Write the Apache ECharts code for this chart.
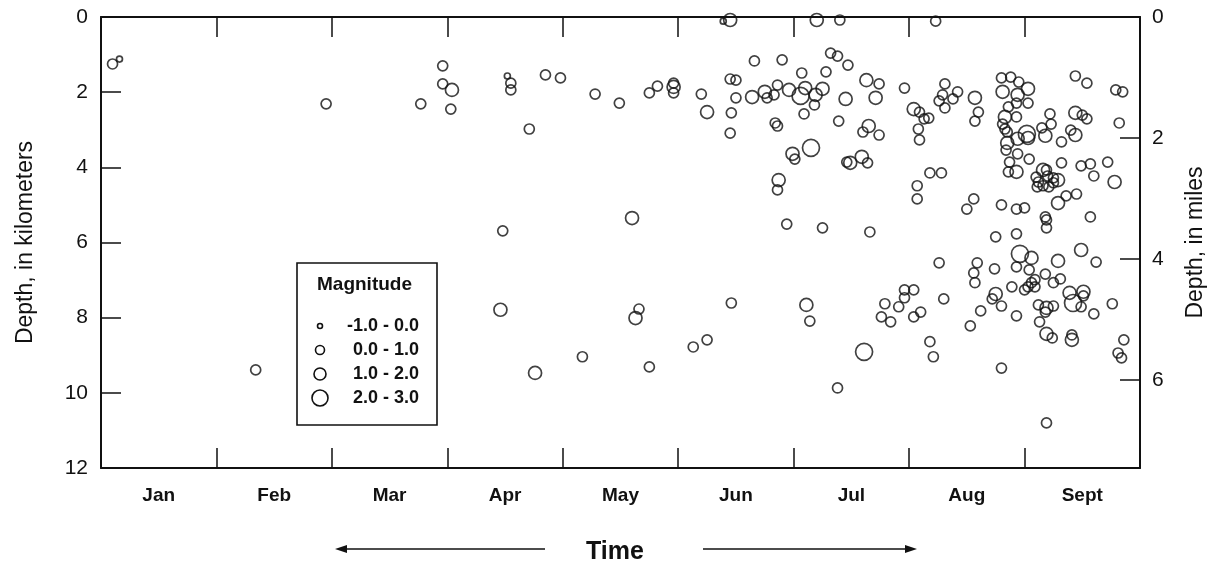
<!DOCTYPE html>
<html lang="en">
<head>
<meta charset="UTF-8">
<title>Earthquake depth vs time</title>
<style>html,body{margin:0;padding:0;background:#fff}</style>
</head>
<body>
<div id="chart" style="width:1215px;height:570px"></div>
<script src="https://cdn.jsdelivr.net/npm/echarts@6/dist/echarts.min.js"></script>
<script>
// x = months since start of Jan (0..9), y = depth in km
var months = ['Jan', 'Feb', 'Mar', 'Apr', 'May', 'Jun', 'Jul', 'Aug', 'Sept'];
var magLabels = ['-1.0 - 0.0', '0.0 - 1.0', '1.0 - 2.0', '2.0 - 3.0'];

var magNeg1to0 = [[0.16, 1.12], [5.39, 0.11], [3.52, 1.57]];

var mag0to1 = [
    [0.10, 1.25], [1.95, 2.31], [2.77, 2.31], [2.96, 1.30], [2.96, 1.78], [3.03, 2.45],
    [3.55, 1.76], [3.55, 1.94], [3.85, 1.54], [3.98, 1.62], [3.71, 2.98], [4.28, 2.05],
    [4.49, 2.29], [4.75, 2.02], [4.82, 1.84], [4.96, 1.76], [4.96, 2.02], [3.48, 5.69],
    [5.20, 2.05], [5.45, 1.65], [5.50, 1.68], [5.50, 2.15], [5.46, 2.55], [5.45, 3.09],
    [5.66, 1.17], [5.90, 1.14], [6.07, 1.49], [5.77, 2.15], [5.83, 2.07], [5.86, 1.81],
    [6.18, 2.34], [6.09, 2.58], [5.84, 2.82], [5.86, 2.90], [6.01, 3.78], [5.86, 4.60],
    [5.94, 5.51], [6.40, 0.08], [7.23, 0.11], [6.32, 0.96], [6.38, 1.04], [6.28, 1.46],
    [6.47, 1.28], [6.39, 2.77], [6.74, 1.78], [6.60, 3.06], [6.74, 3.14], [6.46, 3.86],
    [6.64, 3.88], [6.96, 1.89], [7.09, 2.53], [7.13, 2.71], [7.17, 2.69], [7.08, 2.98],
    [7.09, 3.27], [7.31, 1.78], [7.29, 2.07], [7.26, 2.23], [7.31, 2.42], [7.38, 2.18],
    [7.42, 1.99], [7.18, 4.15], [7.28, 4.15], [7.07, 4.49], [7.07, 4.84], [6.25, 5.61],
    [6.66, 5.72], [7.60, 2.53], [7.57, 2.77], [7.56, 4.84], [7.50, 5.11], [7.80, 1.62],
    [7.88, 1.60], [7.95, 1.73], [7.93, 2.29], [8.03, 2.29], [7.86, 2.39], [7.93, 2.66],
    [7.81, 2.85], [7.83, 2.98], [7.85, 3.06], [7.84, 3.54], [7.94, 3.64], [8.04, 3.78],
    [7.87, 3.86], [7.86, 4.12], [7.80, 5.00], [7.93, 5.11], [8.00, 5.08], [7.75, 5.85],
    [7.93, 5.77], [8.15, 2.95], [8.23, 2.85], [8.22, 2.58], [8.44, 1.57], [8.54, 1.76],
    [8.50, 2.61], [8.54, 2.71], [8.40, 3.01], [8.32, 3.32], [8.32, 3.88], [8.36, 4.76],
    [8.45, 4.71], [8.18, 5.32], [8.19, 5.40], [8.19, 5.61], [8.57, 5.32], [8.49, 3.96],
    [8.57, 3.91], [8.60, 4.23], [8.72, 3.86], [8.79, 1.94], [8.85, 1.99], [8.82, 2.82],
    [8.10, 4.26], [8.12, 4.39], [8.20, 4.23], [8.25, 4.28], [8.11, 4.52], [8.16, 4.49],
    [8.21, 4.52], [8.25, 4.41], [8.19, 4.07],
    [7.26, 6.54], [7.59, 6.54], [7.56, 6.81], [7.57, 7.07], [7.74, 6.70], [7.93, 6.65],
    [8.04, 6.73], [8.09, 6.99], [8.06, 7.07], [8.00, 7.26], [8.03, 7.18], [8.09, 7.18],
    [8.18, 6.84], [8.25, 7.07], [8.31, 6.97], [7.89, 7.18], [6.96, 7.26], [7.04, 7.26],
    [6.96, 7.47], [6.79, 7.63], [6.91, 7.71], [6.76, 7.98], [6.84, 8.11], [7.04, 7.98],
    [7.10, 7.85], [7.30, 7.50], [7.18, 8.64], [7.21, 9.04], [7.62, 7.82], [7.53, 8.22],
    [7.72, 7.50], [7.80, 7.69], [7.93, 7.95], [8.13, 8.11], [8.12, 7.66], [8.25, 7.69],
    [8.18, 7.85], [8.51, 7.42], [8.49, 7.71], [8.60, 7.90], [8.76, 7.63], [8.24, 8.54],
    [8.41, 8.46], [8.86, 8.59], [8.81, 8.94], [8.84, 9.07], [8.62, 6.52], [7.80, 9.34],
    [8.19, 10.80], [6.14, 8.09], [6.38, 9.87], [1.34, 9.39], [4.17, 9.04], [4.66, 7.77],
    [4.75, 9.31], [5.13, 8.78], [5.25, 8.59], [5.46, 7.61]
];

var mag1to2 = [
    [3.04, 1.94], [4.96, 1.86], [4.60, 5.35], [5.25, 2.53], [5.64, 2.13], [5.75, 1.99],
    [5.96, 1.94], [6.10, 1.89], [6.19, 2.07], [6.25, 1.91], [5.99, 3.64], [5.87, 4.34],
    [6.20, 0.08], [5.45, 0.08], [6.45, 2.18], [6.63, 1.68], [6.71, 2.15], [6.65, 2.90],
    [6.59, 3.72], [6.49, 3.88], [7.04, 2.45], [7.57, 2.15], [7.81, 1.99], [7.94, 2.07],
    [8.03, 1.91], [7.83, 2.66], [7.85, 3.35], [7.94, 3.24], [8.03, 3.22], [7.93, 4.12],
    [8.18, 3.16], [8.44, 2.55], [8.44, 3.14], [8.16, 4.07], [8.29, 4.34], [8.29, 4.95],
    [8.78, 4.39], [8.06, 6.41], [8.29, 6.49], [8.49, 6.20], [8.19, 7.74], [7.75, 7.37],
    [8.39, 7.34], [8.51, 7.31], [8.19, 8.43], [8.41, 8.59], [6.11, 7.66], [3.46, 7.79],
    [3.76, 9.47], [4.63, 8.01]
];

var mag2to3 = [[6.06, 2.10], [6.15, 3.48], [8.02, 3.11], [7.96, 6.30], [8.42, 7.61], [6.61, 8.91]];

var KM_PER_MILE = 1.609344;
var DEPTH_MAX_KM = 12;

var ink = '#111';
var symbolSizes = [6, 10, 13, 17];
var font = "'Liberation Sans', Arial, Helvetica, sans-serif";

var chart = echarts.init(document.getElementById('chart'));

var groups = [magNeg1to0, mag0to1, mag1to2, mag2to3];
var series = groups.map(function (d, i) {
    return {
        name: magLabels[i],
        type: 'scatter',
        data: d,
        symbol: 'circle',
        symbolSize: symbolSizes[i],
        clip: false,
        silent: true,
        xAxisIndex: 0,
        yAxisIndex: 0,
        itemStyle: { color: 'rgba(0,0,0,0)', borderColor: ink, borderWidth: 1.7 }
    };
});

// legend box drawn by hand (marker sizes differ per row)
var legendItems = [
    { type: 'rect', shape: { x: 297, y: 263, width: 140, height: 162 },
      style: { fill: '#fff', stroke: ink, lineWidth: 1.6 } },
    { type: 'text', x: 317, y: 285,
      style: { text: 'Magnitude', fill: ink, font: 'bold 19px ' + font, verticalAlign: 'middle' } }
];
magLabels.forEach(function (lab, i) {
    var cy = 326 + i * 24;
    legendItems.push({ type: 'circle', shape: { cx: 320, cy: cy, r: (symbolSizes[i] - 1) / 2 },
        style: { fill: 'none', stroke: ink, lineWidth: 1.6 } });
    legendItems.push({ type: 'text', x: 419, y: cy,
        style: { text: lab, fill: ink, font: 'bold 18px ' + font, align: 'right', verticalAlign: 'middle' } });
});

var arrows = [
    { type: 'line', shape: { x1: 545, y1: 549, x2: 344, y2: 549 }, style: { stroke: ink, lineWidth: 1.6 } },
    { type: 'polygon', shape: { points: [[335, 549], [347, 545], [347, 553]] }, style: { fill: ink } },
    { type: 'line', shape: { x1: 703, y1: 549, x2: 908, y2: 549 }, style: { stroke: ink, lineWidth: 1.6 } },
    { type: 'polygon', shape: { points: [[917, 549], [905, 545], [905, 553]] }, style: { fill: ink } },
    { type: 'text', x: 615, y: 552,
      style: { text: 'Time', fill: ink, font: 'bold 25px ' + font, align: 'center', verticalAlign: 'middle' } }
];

var tickStyle = { show: true, inside: true, length: 20, lineStyle: { color: ink, width: 1.5 } };
var lineStyle = { show: true, onZero: false, lineStyle: { color: ink, width: 2 } };

option = {
    backgroundColor: '#fff',
    animation: false,
    grid: { left: 101, right: 73, top: 17, bottom: 102 },
    xAxis: [
        {
            type: 'value',
            position: 'top',
            min: 0,
            max: months.length,
            interval: 1,
            axisLine: lineStyle,
            axisTick: tickStyle,
            axisLabel: { show: false },
            splitLine: { show: false }
        },
        {
            type: 'category',
            position: 'bottom',
            data: months,
            boundaryGap: true,
            axisLine: lineStyle,
            axisTick: { show: true, inside: true, length: 20, interval: 0, lineStyle: { color: ink, width: 1.5 } },
            axisLabel: { interval: 0, margin: 18, color: ink, fontSize: 19, fontWeight: 'bold', fontFamily: font },
            splitLine: { show: false }
        }
    ],
    yAxis: [
        {
            type: 'value',
            position: 'left',
            inverse: true,
            min: 0,
            max: DEPTH_MAX_KM,
            interval: 2,
            axisLine: lineStyle,
            axisTick: tickStyle,
            axisLabel: { margin: 13, color: ink, fontSize: 21, fontFamily: font },
            splitLine: { show: false },
            name: 'Depth, in kilometers',
            nameLocation: 'middle',
            nameGap: 64,
            nameTextStyle: { color: ink, fontSize: 23, fontFamily: font }
        },
        {
            type: 'value',
            position: 'right',
            inverse: true,
            min: 0,
            max: DEPTH_MAX_KM / KM_PER_MILE,
            interval: 2,
            axisLine: lineStyle,
            axisTick: tickStyle,
            axisLabel: {
                margin: 12, color: ink, fontSize: 21, fontFamily: font,
                formatter: function (v) { return v % 2 === 0 ? String(v) : ''; }
            },
            splitLine: { show: false },
            name: 'Depth, in miles',
            nameLocation: 'middle',
            nameGap: 44,
            nameTextStyle: { color: ink, fontSize: 23, fontFamily: font }
        }
    ],
    graphic: legendItems.concat(arrows),
    series: series
};
chart.setOption(option);
</script>
</body>
</html>
